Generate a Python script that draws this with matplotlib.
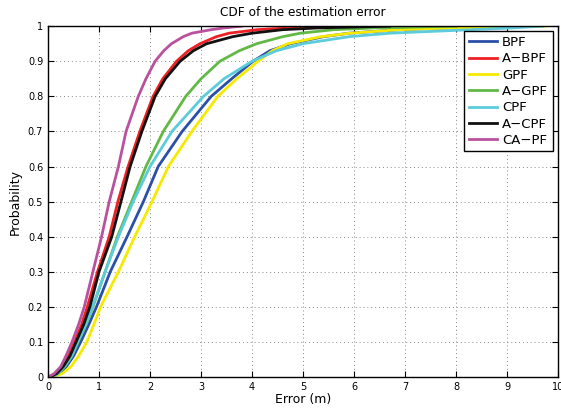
import numpy as np
import matplotlib.pyplot as plt

# probability levels shared by all curves, error (m) read per curve
prob = [0, 0.01, 0.03, 0.06, 0.1, 0.15, 0.2, 0.3, 0.4, 0.5, 0.6, 0.7, 0.8,
        0.85, 0.9, 0.93, 0.95, 0.97, 0.98, 0.99, 0.995, 1.0]

err_bpf  = [0.05, 0.22, 0.36, 0.50, 0.64, 0.80, 0.95, 1.22, 1.55, 1.87, 2.16, 2.63, 3.20,
            3.60, 4.02, 4.35, 4.75, 5.40, 5.90, 6.90, 7.80, 9.00]
err_abpf = [0.02, 0.15, 0.28, 0.40, 0.52, 0.66, 0.77, 0.97, 1.20, 1.37, 1.57, 1.80, 2.06,
            2.25, 2.52, 2.75, 2.98, 3.30, 3.55, 4.10, 4.70, 6.00]
err_gpf  = [0.06, 0.28, 0.45, 0.60, 0.76, 0.90, 1.03, 1.38, 1.70, 2.04, 2.36, 2.82, 3.33,
            3.70, 4.12, 4.40, 4.70, 5.35, 5.92, 6.90, 7.90, 9.75]
err_agpf = [0.04, 0.20, 0.33, 0.47, 0.59, 0.75, 0.88, 1.12, 1.36, 1.64, 1.92, 2.26, 2.70,
            3.00, 3.37, 3.75, 4.09, 4.60, 4.95, 5.60, 6.40, 8.00]
err_cpf  = [0.04, 0.19, 0.32, 0.46, 0.58, 0.74, 0.87, 1.12, 1.38, 1.67, 2.00, 2.43, 3.05,
            3.45, 4.00, 4.48, 5.00, 5.90, 6.70, 8.30, 9.10, 9.70]
err_acpf = [0.03, 0.17, 0.30, 0.43, 0.55, 0.70, 0.82, 1.00, 1.25, 1.43, 1.61, 1.84, 2.10,
            2.30, 2.59, 2.85, 3.11, 3.62, 4.00, 4.60, 5.30, 6.70]
err_capf = [0.00, 0.12, 0.25, 0.35, 0.47, 0.60, 0.71, 0.88, 1.05, 1.20, 1.38, 1.53, 1.77,
            1.92, 2.10, 2.27, 2.42, 2.65, 2.82, 3.20, 3.45, 3.80]

labels = ["BPF", "A\u2212BPF", "GPF", "A\u2212GPF", "CPF", "A\u2212CPF", "CA\u2212PF"]
colors = ["#2b4fa8", "#ee2024", "#f5ea00", "#62b846", "#5ccbdc", "#111111", "#b9519f"]
series = [err_bpf, err_abpf, err_gpf, err_agpf, err_cpf, err_acpf, err_capf]

fig = plt.figure(figsize=(5.61, 4.09), dpi=100)
ax = fig.add_axes([0.0856, 0.078, 0.909, 0.858])

for e, lab, c in zip(series, labels, colors):
    ax.plot(e, prob, color=c, lw=2.0, label=lab)

ax.set_xlim(0, 10)
ax.set_ylim(0, 1)
ax.set_xticks(range(0, 11))
ax.set_yticks(np.arange(0, 1.01, 0.1))
ax.set_yticklabels(["0", "0.1", "0.2", "0.3", "0.4", "0.5", "0.6", "0.7", "0.8", "0.9", "1"])
ax.tick_params(direction="in", top=True, right=True, labelsize=7, length=4, width=0.8)
ax.grid(True, linestyle=(0, (1, 3)), color="#888888", lw=0.7)
for s in ax.spines.values():
    s.set_linewidth(1.0)

ax.set_title("CDF of the estimation error", fontsize=8.7, pad=7)
ax.set_xlabel("Error (m)", fontsize=9, labelpad=1)
ax.set_ylabel("Probability", fontsize=9, labelpad=4)

leg = ax.legend(loc="upper right", fontsize=9.5, handlelength=2.1, handletextpad=0.4,
                labelspacing=0.25, borderaxespad=0.4, fancybox=False, framealpha=1,
                edgecolor="black", borderpad=0.35)
leg.get_frame().set_linewidth(1.0)

plt.savefig("out.png", dpi=100)
